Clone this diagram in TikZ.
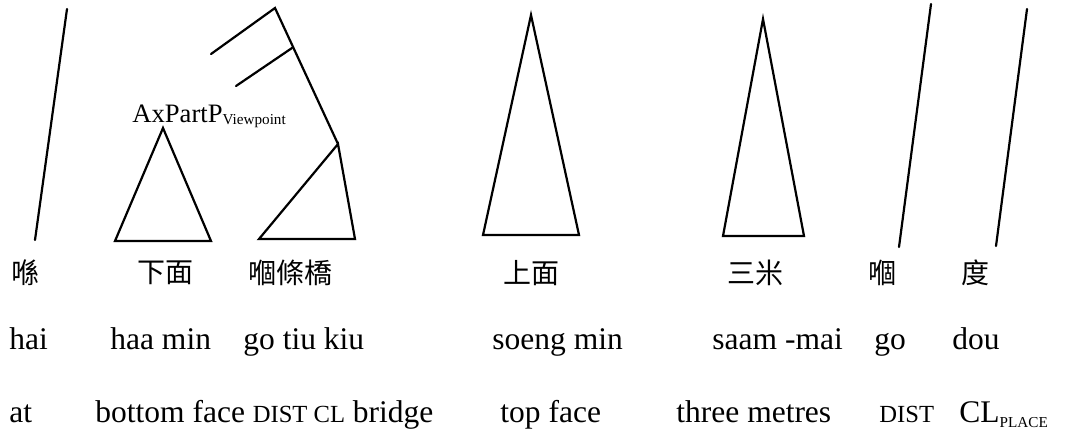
\documentclass[tikz,border=0pt]{standalone}
\usepackage{fontspec}
\setmainfont{Liberation Serif}
\newfontfamily\cjk{Noto Sans CJK TC}
\usetikzlibrary{positioning}
\newcommand{\smcap}[1]{{\fontsize{12.3pt}{12.3pt}\selectfont #1}}
\newcommand{\lowsub}[2][2.3pt]{\raisebox{-#1}{\fontsize{7.6pt}{8pt}\selectfont #2}}

\begin{document}
\begin{tikzpicture}[
  x=0.5pt, y=-0.5pt,
  branch/.style={line width=1.1pt, line cap=round, line join=miter},
  han/.style={font=\cjk\fontsize{14pt}{14pt}\selectfont, inner sep=0pt},
  word/.style={font=\fontsize{15.75pt}{15.75pt}\selectfont, inner sep=0pt,
               anchor=base west},
  label/.style={font=\fontsize{13.3pt}{13.3pt}\selectfont, inner sep=0pt,
                anchor=base west}
]
\useasboundingbox (0,0) rectangle (1068,436);

% characters
\node[han] (hai-c)   at (25,273)  {喺};
\node[han] (haa-c)   at (165,273) {下面};
\node[han] (kiu-c)   at (290,273) {嗰條橋};
\node[han] (soeng-c) at (531,273) {上面};
\node[han] (saam-c)  at (755,273) {三米};
\node[han] (go-c)    at (882,273) {嗰};
\node[han] (dou-c)   at (975,273) {度};

% jyutping
\node[word] (hai-j)   at (9,349)   {hai};
\node[word] (haa-j)   at (110,349) {haa min};
\node[word] (kiu-j)   at (243,349) {go tiu kiu};
\node[word] (soeng-j) at (492,349) {soeng min};
\node[word] (saam-j)  at (712,349) {saam -mai};
\node[word] (go-j)    at (874,349) {go};
\node[word] (dou-j)   at (952,349) {dou};

% glosses
\node[word] (hai-g)   at (9,422)   {at};
\node[word] (haa-g)   at (95,422)  {bottom face \smcap{DIST CL} bridge};
\node[word] (soeng-g) at (500,422) {top face};
\node[word] (saam-g)  at (676,422) {three metres};
\node[word] (go-g)    at (879,422) {\smcap{DIST}};
\node[word] (dou-g)   at (959,422) {CL\lowsub[2.5pt]{PLACE}};

\node[label] (axpart) at (132,122) {AxPartP\lowsub[1.2pt]{Viewpoint}};

% tree points
\coordinate (hai-top)  at (67,9);
\coordinate (hai-foot) at (35,240);
\coordinate (np-top)   at (275,8);
\coordinate (np-left)  at (211,54);
\coordinate (np-mid)   at (292,48);
\coordinate (np-mleft) at (236,86);
\coordinate (np-low)   at (338,144);
\coordinate (go-top)   at (931,4);
\coordinate (go-foot)  at (899,247);
\coordinate (dou-top)  at (1027,9);
\coordinate (dou-foot) at (996,246);

\draw[branch] (hai-top) -- (hai-foot);
\draw[branch] (np-left) -- (np-top) -- (np-low);
\draw[branch] (np-mid) -- (np-mleft);
\draw[branch] (np-low) -- (259,239) -- (355,239) -- cycle;
\draw[branch] (163,128) -- (115,241) -- (211,241) -- cycle;
\draw[branch] (531,15) -- (483,235) -- (579,235) -- cycle;
\draw[branch] (763,19) -- (723,236) -- (804,236) -- cycle;
\draw[branch] (go-top) -- (go-foot);
\draw[branch] (dou-top) -- (dou-foot);
\end{tikzpicture}
\end{document}
